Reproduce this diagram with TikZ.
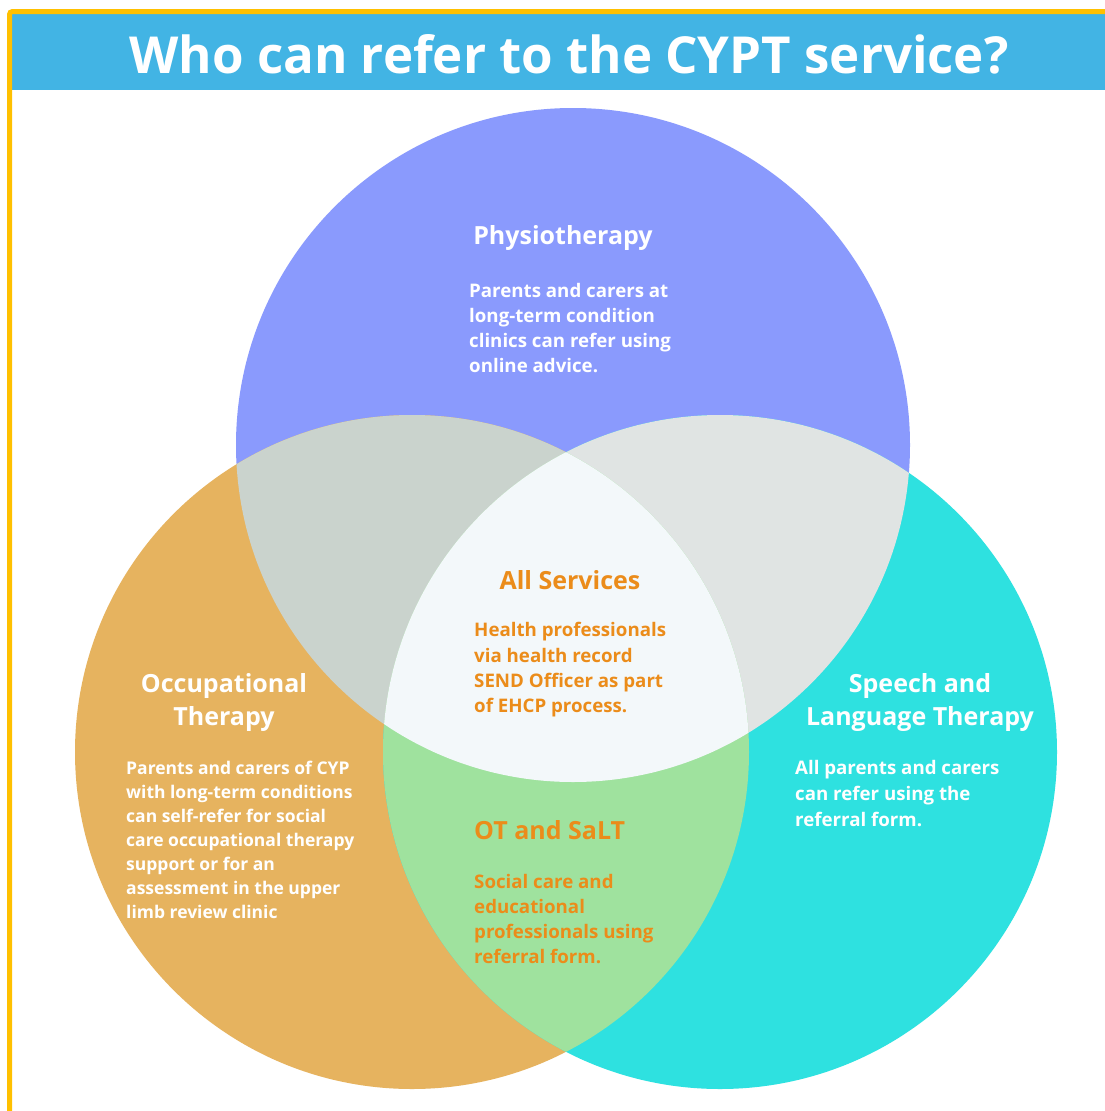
\documentclass[tikz,border=0pt]{standalone}
\usepackage{fontspec}
\setmainfont{Open Sans}
\usetikzlibrary{positioning}
\definecolor{PhysioBlue}{HTML}{8A9AFD}
\definecolor{OTOrange}{HTML}{E6B35F}
\definecolor{SLTCyan}{HTML}{2EE1E0}
\definecolor{PhysOT}{HTML}{CAD3CD}
\definecolor{PhysSLT}{HTML}{E0E4E3}
\definecolor{OTSLT}{HTML}{9FE29E}
\definecolor{AllCentre}{HTML}{F3F8FA}
\definecolor{TitleBlue}{HTML}{42B4E4}
\definecolor{FrameYellow}{HTML}{FFC000}
\definecolor{TextOrange}{HTML}{EB8C1A}

\begin{document}
\begin{tikzpicture}[x=1pt, y=-1pt,
		heading/.style={font=\bfseries\fontsize{25}{33}\selectfont, align=center, inner sep=0pt},%
		body/.style={font=\bfseries\fontsize{18.7}{25.3}\selectfont, align=left, anchor=west, inner sep=0pt},%
		]
	\useasboundingbox[fill=white] (0,0) rectangle (1105,1111);
	% frame and title bar
	\fill[TitleBlue] (12,14) rectangle (1105,90);
	\draw[FrameYellow, line width=5pt, rounded corners=3pt] (9.5,1111) -- (9.5,11.5) -- (1105,11.5);
	\node[font=\bfseries\fontsize{51}{56}\selectfont, text=white, anchor=base, inner sep=0pt] (title) at (569,73) {Who can refer to the CYPT service?};
	% the three circles
	\coordinate (physio) at (573,445);
	\coordinate (ot) at (412,752);
	\coordinate (slt) at (720,752);
	\fill[PhysioBlue] (physio) circle[radius=337pt];
	\fill[OTOrange] (ot) circle[radius=337pt];
	\fill[SLTCyan] (slt) circle[radius=337pt];
	\begin{scope}
		\clip (physio) circle[radius=337pt];
		\fill[PhysOT] (ot) circle[radius=337pt];
		\fill[PhysSLT] (slt) circle[radius=337pt];
	\end{scope}
	\begin{scope}
		\clip (ot) circle[radius=337pt];
		\fill[OTSLT] (slt) circle[radius=337pt];
		\clip (physio) circle[radius=337pt];
		\fill[AllCentre] (slt) circle[radius=337pt];
	\end{scope}
	% labels
	\node[heading, text=white] (physiohead) at (563,238) {Physiotherapy};
	\node[body, text=white] (physiotext) at (469,328) {Parents and carers at\\long-term condition\\clinics can refer using\\online advice.};
	\node[heading, text=TextOrange] (allhead) at (570,580) {All Services};
	\node[body, text=TextOrange] (alltext) at (474,670) {Health professionals\\via health record\\SEND Officer as part\\of EHCP process.};
	\node[heading, text=white] (othead) at (224,702) {Occupational\\Therapy};
	\node[body, text=white, font=\bfseries\fontsize{17.5}{24}\selectfont] (ottext) at (126,840) {Parents and carers of CYP\\with long-term conditions\\can self-refer for social\\care occupational therapy\\support or for an\\assessment in the upper\\limb review clinic};
	\node[heading, text=white] (slthead) at (920,702) {Speech and\\Language Therapy};
	\node[body, text=white, font=\bfseries\fontsize{18.7}{26}\selectfont] (slttext) at (795,794) {All parents and carers\\can refer using the\\referral form.};
	\node[heading, text=TextOrange, anchor=west] (otslthead) at (474,830) {OT and SaLT};
	\node[body, text=TextOrange] (otslttext) at (474,919) {Social care and\\educational\\professionals using\\referral form.};
\end{tikzpicture}
\end{document}
